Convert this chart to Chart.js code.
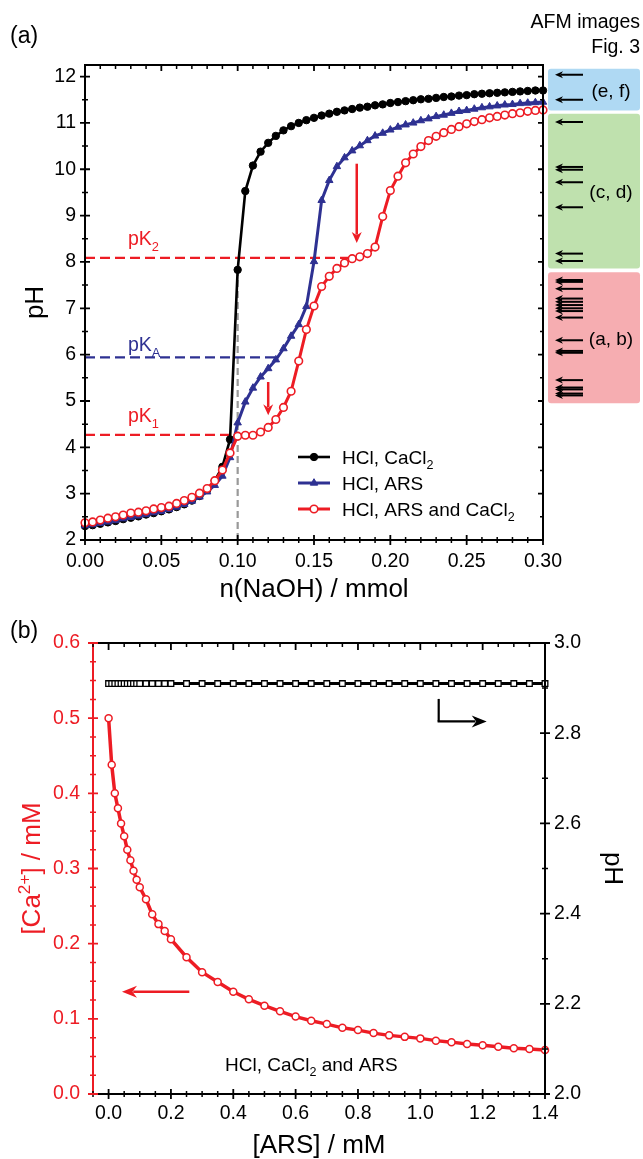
<!DOCTYPE html>
<html><head><meta charset="utf-8">
<script src="https://cdn.jsdelivr.net/npm/chart.js@4.4.1/dist/chart.umd.min.js"></script>
<style>
html,body{margin:0;padding:0;background:#fff;width:643px;height:1159px;overflow:hidden}
#ca{position:absolute;left:0;top:0}
#cb{position:absolute;left:0;top:605px}
</style></head><body>
<canvas id="ca" width="643" height="605"></canvas>
<canvas id="cb" width="643" height="554"></canvas>
<script>
// ---------- Panel (a) data ----------
const nNaOH = [0,0.005,0.01,0.015,0.02,0.025,0.03,0.035,0.04,0.045,0.05,0.055,0.06,0.065,0.07,0.075,0.08,0.085,0.09,0.095,0.1,0.105,0.11,0.115,0.12,0.125,0.13,0.135,0.14,0.145,0.15,0.155,0.16,0.165,0.17,0.175,0.18,0.185,0.19,0.195,0.2,0.205,0.21,0.215,0.22,0.225,0.23,0.235,0.24,0.245,0.25,0.255,0.26,0.265,0.27,0.275,0.28,0.285,0.29,0.295,0.3];
const pH_HCl_CaCl2 = [2.30,2.32,2.35,2.38,2.41,2.45,2.48,2.51,2.55,2.58, 2.62,2.66,2.71,2.77,2.85,2.95,3.08,3.28,3.58,4.17, 7.83,9.53,10.08,10.38,10.57,10.72,10.84,10.93,11.00,11.06, 11.11,11.16,11.20,11.24,11.27,11.30,11.33,11.35,11.38,11.40, 11.43,11.45,11.47,11.49,11.51,11.52,11.54,11.56,11.57,11.59, 11.60,11.62,11.63,11.64,11.65,11.66,11.67,11.68,11.69,11.70,11.70];
const pH_HCl_ARS = [2.31,2.33,2.36,2.39,2.42,2.46,2.49,2.52,2.55,2.59, 2.62,2.66,2.71,2.77,2.84,2.93,3.04,3.18,3.38,3.78, 4.53,4.98,5.28,5.52,5.70,5.89,6.13,6.40,6.65,7.04, 8.01,9.33,9.76,10.06,10.25,10.40,10.51,10.62,10.72,10.78, 10.85,10.91,10.96,11.00,11.05,11.09,11.14,11.17,11.21,11.25, 11.27,11.30,11.33,11.35,11.37,11.39,11.40,11.42,11.43,11.44,11.45];
const pH_HCl_ARS_CaCl2 = [2.37,2.39,2.43,2.47,2.50,2.54,2.58,2.60,2.63,2.67, 2.70,2.73,2.79,2.85,2.92,3.01,3.11,3.28,3.51,3.88, 4.24,4.26,4.26,4.33,4.43,4.60,4.86,5.21,5.86,6.54, 7.05,7.47,7.69,7.86,7.98,8.07,8.11,8.18,8.32,8.98, 9.54,9.85,10.14,10.33,10.49,10.62,10.71,10.79,10.86,10.92, 10.98,11.03,11.07,11.11,11.14,11.17,11.20,11.22,11.25,11.27,11.28];
const seriesLabelsA = ['HCl, ARS and CaCl_{2}','HCl, ARS','HCl, CaCl_{2}'];
const xTicksA = [0,0.05,0.10,0.15,0.20,0.25,0.30];
const yTicksA = [2,3,4,5,6,7,8,9,10,11,12];
const pK1 = 4.27, pKA = 5.94, pK2 = 8.09;
const pK1End = 0.100, pKAEnd = 0.125, pK2End = 0.174;
const eqX = 0.100, eqTop = 7.83;
const arrowAx = [0.178, 0.120], arrowAfrom = [10.12, 5.41], arrowAto = [8.41, 4.69];
const afmLo = [11.27, 7.86, 4.95];
const afmHi = [12.17, 11.20, 7.78];
const afmLabels = ['(e, f)','(c, d)','(a, b)'];
const afmArrowsPH = [12.04,11.50, 11.02,10.05,9.99,9.72,9.18,8.18,8.02, 7.61,7.57,7.42,7.21,7.14,7.07,7.00,6.94,6.80,6.31,6.08,6.04,5.45,5.29,5.25,5.16,5.12];

// ---------- Panel (b) data ----------
const ARS = [0,0.01,0.02,0.03,0.04,0.05,0.06,0.07,0.08,0.09,0.10,0.12,0.14,0.16,0.18,0.20,0.25,0.30,0.35,0.40,0.45,0.50,0.55,0.60,0.65,0.70,0.75,0.80,0.85,0.90,0.95,1.00,1.05,1.10,1.15,1.20,1.25,1.30,1.35,1.40];
const Ca = [0.500,0.438,0.400,0.380,0.360,0.343,0.325,0.311,0.297,0.285,0.275,0.259,0.239,0.226,0.217,0.206,0.182,0.162,0.149,0.136,0.126,0.1175,0.110,0.103,0.0975,0.093,0.088,0.085,0.081,0.078,0.076,0.074,0.071,0.069,0.0665,0.065,0.063,0.061,0.060,0.0585];
const pH_b = [2.91,2.91,2.91,2.91,2.91,2.91,2.91,2.91,2.91,2.91,2.91,2.91,2.91,2.91,2.91,2.91,2.91,2.91,2.91,2.91,2.91,2.91,2.91,2.91,2.91,2.91,2.91,2.91,2.91,2.91,2.91,2.91,2.91,2.91,2.91,2.91,2.91,2.91,2.91,2.91];
const xTicksB = [0,0.2,0.4,0.6,0.8,1.0,1.2,1.4];
const yTicksCa = [0,0.1,0.2,0.3,0.4,0.5,0.6];
const yTicksPH = [2.0,2.2,2.4,2.6,2.8,3.0];
const arrowCaY = 0.136, arrowCaFrom = 0.259, arrowCaTo = 0.043;
const arrowPHx = 1.059, arrowPHfrom = 2.876, arrowPHcorner = 2.826, arrowPHto = 1.213;

// ---------- helpers ----------
const FF = "'Liberation Sans', Arial, Helvetica, sans-serif";
Chart.defaults.font.family = FF;
Chart.defaults.color = '#000';
const RED = '#ed1c24', BLUE = '#2e3192';
const TITLE = 26;

function richParts(s){
  const out=[]; const re=/(_\{([^}]*)\}|\^\{([^}]*)\})/g; let last=0,m;
  while((m=re.exec(s))){
    if(m.index>last) out.push({t:s.slice(last,m.index),k:0});
    if(m[2]!==undefined) out.push({t:m[2],k:1}); else out.push({t:m[3],k:-1});
    last=re.lastIndex;
  }
  if(last<s.length) out.push({t:s.slice(last),k:0});
  return out;
}
function drawRich(ctx,s,x,y,size,color,align){
  const parts=richParts(s), small=size*0.66; let w=0;
  parts.forEach(p=>{ctx.font=(p.k?small:size)+'px '+FF; p.w=ctx.measureText(p.t).width; w+=p.w;});
  let cx = align==='center'? x-w/2 : (align==='right'? x-w : x);
  ctx.fillStyle=color; ctx.textBaseline='alphabetic'; ctx.textAlign='left';
  parts.forEach(p=>{ctx.font=(p.k?small:size)+'px '+FF;
    const dy = p.k===1? size*0.27 : (p.k===-1? -size*0.38 : 0);
    ctx.fillText(p.t,cx,y+dy); cx+=p.w;});
  return w;
}
function stepVals(a,b,s){const r=[];for(let i=0;;i++){const v=a+i*s; if(v>b+1e-9)break; r.push(+v.toFixed(6));}return r;}
function minorsOf(a,b,s,major){return stepVals(a,b,s).filter(v=>{const q=v/major;return Math.abs(q-Math.round(q))>1e-6;});}
function ticks(ctx,scale,side,pos,vals,lin,lout,color,lw){
  ctx.save(); ctx.strokeStyle=color; ctx.lineWidth=lw; ctx.beginPath();
  vals.forEach(v=>{const p=scale.getPixelForValue(v);
    if(side==='bottom'){ctx.moveTo(p,pos-lin);ctx.lineTo(p,pos+lout);}
    else if(side==='top'){ctx.moveTo(p,pos+lin);ctx.lineTo(p,pos-lout);}
    else if(side==='left'){ctx.moveTo(pos+lin,p);ctx.lineTo(pos-lout,p);}
    else {ctx.moveTo(pos-lin,p);ctx.lineTo(pos+lout,p);}
  }); ctx.stroke(); ctx.restore();
}
function arrow(ctx,x1,y1,x2,y2,color,lw,hl,hw){
  const a=Math.atan2(y2-y1,x2-x1), c=Math.cos(a), s=Math.sin(a);
  const bx=x2-c*hl*0.75, by=y2-s*hl*0.75;
  ctx.save(); ctx.strokeStyle=color; ctx.fillStyle=color; ctx.lineWidth=lw; ctx.lineCap='butt';
  ctx.beginPath(); ctx.moveTo(x1,y1); ctx.lineTo(bx,by); ctx.stroke();
  ctx.beginPath(); ctx.moveTo(x2,y2);
  ctx.lineTo(x2-c*hl-s*hw, y2-s*hl+c*hw);
  ctx.lineTo(x2-c*hl*0.7, y2-s*hl*0.7);
  ctx.lineTo(x2-c*hl+s*hw, y2-s*hl-c*hw);
  ctx.closePath(); ctx.fill(); ctx.restore();
}
function marker(ctx,style,x,y,r,fill,stroke,bw){
  ctx.save(); ctx.beginPath();
  if(style==='triangle'){ for(let i=0;i<3;i++){const a=i*2*Math.PI/3; const px=x+Math.sin(a)*r, py=y-Math.cos(a)*r; i?ctx.lineTo(px,py):ctx.moveTo(px,py);} ctx.closePath(); }
  else ctx.arc(x,y,r,0,2*Math.PI);
  ctx.fillStyle=fill; ctx.fill(); ctx.lineWidth=bw; ctx.strokeStyle=stroke; ctx.stroke(); ctx.restore();
}
function rrect(ctx,x,y,w,h,r){ctx.beginPath();ctx.moveTo(x+r,y);ctx.lineTo(x+w-r,y);ctx.quadraticCurveTo(x+w,y,x+w,y+r);ctx.lineTo(x+w,y+h-r);ctx.quadraticCurveTo(x+w,y+h,x+w-r,y+h);ctx.lineTo(x+r,y+h);ctx.quadraticCurveTo(x,y+h,x,y+h-r);ctx.lineTo(x,y+r);ctx.quadraticCurveTo(x,y,x+r,y);ctx.closePath();}

const pts = (xs,ys)=>xs.map((x,i)=>({x:x,y:ys[i]}));

// ---------- Chart (a) ----------
const afmColors = ['#afd9f3','#bfe1ae','#f6adb1'];
const plugA = {
  id:'plugA',
  beforeDatasetsDraw(chart){
    const ctx=chart.ctx, y=chart.scales.y;
    for(let i=0;i<afmLo.length;i++){
      const t=y.getPixelForValue(afmHi[i]), b=y.getPixelForValue(afmLo[i]);
      ctx.fillStyle=afmColors[i]; rrect(ctx,548,t,92,b-t,3); ctx.fill();
      drawRich(ctx,afmLabels[i],611,(t+b)/2+7,19,'#000','center');
    }
    afmArrowsPH.forEach(v=>{const p=y.getPixelForValue(v); arrow(ctx,583,p,555,p,'#000',2,8,3.5);});
  },
  afterDatasetsDraw(chart){
    const ctx=chart.ctx, x=chart.scales.x, y=chart.scales.y, ca=chart.chartArea;
    for(let i=0;i<arrowAx.length;i++){
      const px=x.getPixelForValue(arrowAx[i]);
      arrow(ctx,px,y.getPixelForValue(arrowAfrom[i]),px,y.getPixelForValue(arrowAto[i]),RED,2.5,11,5);
    }
    drawRich(ctx,'pK_{2}',128,y.getPixelForValue(pK2)-12.5,19.5,RED,'left');
    drawRich(ctx,'pK_{A}',128,y.getPixelForValue(pKA)-6,19.5,BLUE,'left');
    drawRich(ctx,'pK_{1}',128,y.getPixelForValue(pK1)-12.5,19.5,RED,'left');
    ctx.save(); ctx.strokeStyle='#000'; ctx.lineWidth=2;
    ctx.strokeRect(ca.left,ca.top,ca.right-ca.left,ca.bottom-ca.top); ctx.restore();
    const xMin=minorsOf(0,0.3,0.01,0.05), yMin=minorsOf(2,12,0.5,1);
    ticks(ctx,x,'bottom',ca.bottom,xTicksA,5,5,'#000',1.8);
    ticks(ctx,x,'bottom',ca.bottom,xMin,3,3,'#000',1.5);
    ticks(ctx,x,'top',ca.top,xTicksA,6,0,'#000',1.8);
    ticks(ctx,x,'top',ca.top,xMin,4,0,'#000',1.5);
    ticks(ctx,y,'left',ca.left,yTicksA,5,5,'#000',1.8);
    ticks(ctx,y,'left',ca.left,yMin,3,3,'#000',1.5);
    ticks(ctx,y,'right',ca.right,yTicksA,5,0,'#000',1.8);
    ticks(ctx,y,'right',ca.right,yMin,3,0,'#000',1.5);
    const order=[2,1,0], base=[464,490,516];
    order.forEach((di,j)=>{
      const ds=chart.data.datasets[di], cy=base[j]-7;
      ctx.save(); ctx.strokeStyle=ds.borderColor; ctx.lineWidth=ds.borderWidth;
      ctx.beginPath(); ctx.moveTo(298,cy); ctx.lineTo(330,cy); ctx.stroke(); ctx.restore();
      marker(ctx,ds.pointStyle,314,cy,ds.pointRadius,ds.pointBackgroundColor,ds.pointBorderColor,ds.pointBorderWidth);
      drawRich(ctx,ds.label,342,base[j],19,'#000','left');
    });
    drawRich(ctx,'(a)',10,43,23,'#000','left');
    drawRich(ctx,'AFM images',640,28,19.5,'#000','right');
    drawRich(ctx,'Fig. 3',640,53,19.5,'#000','right');
  }
};

new Chart(document.getElementById('ca'),{
  type:'line',
  data:{datasets:[
    {label:seriesLabelsA[0], data:pts(nNaOH,pH_HCl_ARS_CaCl2), borderColor:RED, borderWidth:3, pointStyle:'circle', pointRadius:3.8, pointBackgroundColor:'#fff', pointBorderColor:RED, pointBorderWidth:1.6, clip:false, order:0},
    {label:seriesLabelsA[1], data:pts(nNaOH,pH_HCl_ARS), borderColor:BLUE, borderWidth:3, pointStyle:'triangle', pointRadius:4.3, pointBackgroundColor:BLUE, pointBorderColor:BLUE, pointBorderWidth:1, clip:false, order:1},
    {label:seriesLabelsA[2], data:pts(nNaOH,pH_HCl_CaCl2), borderColor:'#000', borderWidth:2.6, pointStyle:'circle', pointRadius:3.7, pointBackgroundColor:'#000', pointBorderColor:'#000', pointBorderWidth:1, clip:false, order:2},
    {label:'pK2', data:[{x:0,y:pK2},{x:pK2End,y:pK2}], borderColor:RED, borderDash:[10,5], borderWidth:2.2, pointRadius:0, order:5},
    {label:'pKA', data:[{x:0,y:pKA},{x:pKAEnd,y:pKA}], borderColor:BLUE, borderDash:[10,5], borderWidth:2.2, pointRadius:0, order:5},
    {label:'pK1', data:[{x:0,y:pK1},{x:pK1End,y:pK1}], borderColor:RED, borderDash:[10,5], borderWidth:2.2, pointRadius:0, order:5},
    {label:'eq', data:[{x:eqX,y:2},{x:eqX,y:eqTop}], borderColor:'#999', borderDash:[7,4], borderWidth:2.2, pointRadius:0, order:6}
  ]},
  options:{
    responsive:false, animation:false, devicePixelRatio:1,
    layout:{padding:{top:65,right:100,left:0,bottom:0}},
    plugins:{legend:{display:false}, tooltip:{enabled:false}},
    elements:{line:{tension:0}},
    scales:{
      x:{type:'linear', min:0, max:0.3,
        afterBuildTicks:s=>{s.ticks=xTicksA.map(v=>({value:v}));},
        afterFit:s=>{s.height=65;},
        grid:{display:false,drawTicks:false}, border:{display:false},
        ticks:{padding:10, font:{size:19.5}, color:'#000', maxRotation:0, autoSkip:false, callback:v=>Number(v).toFixed(2)},
        title:{display:true, text:'n(NaOH) / mmol', font:{size:TITLE}, color:'#000', padding:{top:0,bottom:0}}},
      y:{type:'linear', min:2, max:12.25,
        afterBuildTicks:s=>{s.ticks=yTicksA.map(v=>({value:v}));},
        afterFit:s=>{s.width=85;},
        grid:{display:false,drawTicks:false}, border:{display:false},
        ticks:{padding:9, font:{size:19.5}, color:'#000', callback:v=>String(v)},
        title:{display:true, text:'pH', font:{size:TITLE}, color:'#000', padding:{top:20,bottom:0}}}
    }
  },
  plugins:[plugA]
});

// ---------- Chart (b) ----------
const plugB = {
  id:'plugB',
  afterDatasetsDraw(chart){
    const ctx=chart.ctx, x=chart.scales.x, yc=chart.scales.yCa, yp=chart.scales.yPH, ca=chart.chartArea;
    const ay=yc.getPixelForValue(arrowCaY);
    arrow(ctx,x.getPixelForValue(arrowCaFrom),ay,x.getPixelForValue(arrowCaTo),ay,RED,2.5,15,6);
    const bx=x.getPixelForValue(arrowPHx), by1=yp.getPixelForValue(arrowPHfrom), by2=yp.getPixelForValue(arrowPHcorner);
    ctx.save(); ctx.strokeStyle='#000'; ctx.lineWidth=2.2; ctx.beginPath(); ctx.moveTo(bx,by1); ctx.lineTo(bx,by2); ctx.stroke(); ctx.restore();
    arrow(ctx,bx-1.1,by2,x.getPixelForValue(arrowPHto),by2,'#000',2.2,15,6);
    drawRich(ctx,'HCl, CaCl_{2} and ARS',225,1070.7-605,19,'#000','left');
    ctx.save(); ctx.lineWidth=2; ctx.strokeStyle='#000';
    ctx.beginPath(); ctx.moveTo(ca.left,ca.top); ctx.lineTo(ca.right,ca.top); ctx.lineTo(ca.right,ca.bottom); ctx.lineTo(ca.left,ca.bottom); ctx.stroke();
    ctx.strokeStyle=RED; ctx.beginPath(); ctx.moveTo(ca.left,ca.top); ctx.lineTo(ca.left,ca.bottom); ctx.stroke(); ctx.restore();
    const xMin=minorsOf(-0.05,1.4,0.05,0.2);
    ticks(ctx,x,'bottom',ca.bottom,xTicksB,5,5,'#000',1.8);
    ticks(ctx,x,'bottom',ca.bottom,xMin,3,3,'#000',1.5);
    ticks(ctx,x,'top',ca.top,xTicksB,7,0,'#000',1.8);
    ticks(ctx,x,'top',ca.top,xMin,4,0,'#000',1.5);
    ticks(ctx,yc,'left',ca.left,yTicksCa,5,5,RED,1.8);
    ticks(ctx,yc,'left',ca.left,minorsOf(0,0.6,0.025,0.1),3,3,RED,1.5);
    ticks(ctx,yp,'right',ca.right,yTicksPH,5,5,'#000',1.8);
    ticks(ctx,yp,'right',ca.right,minorsOf(2,3,0.1,0.2),3,3,'#000',1.5);
    ctx.save(); ctx.translate(40,(ca.top+ca.bottom)/2); ctx.rotate(-Math.PI/2);
    drawRich(ctx,'[Ca^{2+}] / mM',0,0,TITLE,RED,'center'); ctx.restore();
    drawRich(ctx,'(b)',10,33,23,'#000','left');
  }
};

new Chart(document.getElementById('cb'),{
  type:'line',
  data:{datasets:[
    {label:'[Ca2+]', data:pts(ARS,Ca), yAxisID:'yCa', borderColor:RED, borderWidth:3.5, pointStyle:'circle', pointRadius:3.5, pointBackgroundColor:'#fff', pointBorderColor:RED, pointBorderWidth:1.5, clip:false},
    {label:'pH', data:pts(ARS,pH_b), yAxisID:'yPH', borderColor:'#000', borderWidth:3, pointStyle:'rect', pointRadius:4, pointBackgroundColor:'#fff', pointBorderColor:'#000', pointBorderWidth:1.3, clip:false}
  ]},
  options:{
    responsive:false, animation:false, devicePixelRatio:1,
    layout:{padding:{top:38,right:0,left:0,bottom:0}},
    plugins:{legend:{display:false}, tooltip:{enabled:false}},
    elements:{line:{tension:0}},
    scales:{
      x:{type:'linear', min:-0.05, max:1.4,
        afterBuildTicks:s=>{s.ticks=xTicksB.map(v=>({value:v}));},
        afterFit:s=>{s.height=65;},
        grid:{display:false,drawTicks:false}, border:{display:false},
        ticks:{padding:8, font:{size:19.5}, color:'#000', maxRotation:0, autoSkip:false, callback:v=>Number(v).toFixed(1)},
        title:{display:true, text:'[ARS] / mM', font:{size:TITLE}, color:'#000', padding:{top:0,bottom:-2}}},
      yCa:{type:'linear', position:'left', min:0, max:0.6,
        afterBuildTicks:s=>{s.ticks=yTicksCa.map(v=>({value:v}));},
        afterFit:s=>{s.width=93;},
        grid:{display:false,drawTicks:false}, border:{display:false},
        ticks:{padding:13, font:{size:19.5}, color:RED, callback:v=>Number(v).toFixed(1)}},
      yPH:{type:'linear', position:'right', min:2, max:3,
        afterBuildTicks:s=>{s.ticks=yTicksPH.map(v=>({value:v}));},
        afterFit:s=>{s.width=98;},
        grid:{display:false,drawTicks:false}, border:{display:false},
        ticks:{padding:9, font:{size:19.5}, color:'#000', callback:v=>Number(v).toFixed(1)},
        title:{display:true, text:'pH', font:{size:TITLE}, color:'#000', padding:{top:15,bottom:0}}}
    }
  },
  plugins:[plugB]
});
</script>
</body></html>
